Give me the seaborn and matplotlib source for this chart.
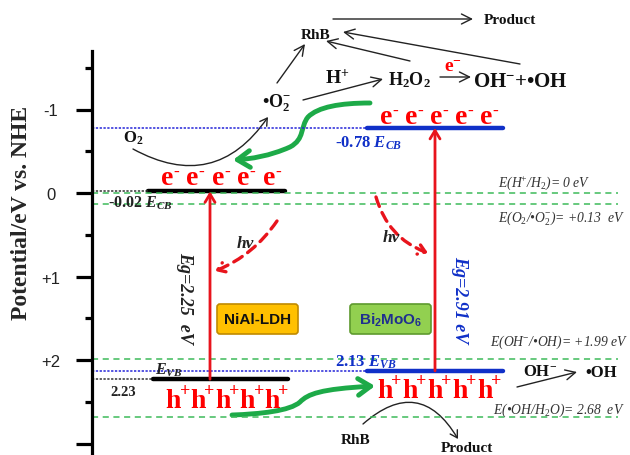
import numpy as np
import pandas as pd
import matplotlib
matplotlib.use("Agg")
import matplotlib.pyplot as plt
import seaborn as sns
from matplotlib.patches import FancyArrowPatch, FancyBboxPatch
from matplotlib.path import Path

# ---------------- data ----------------
materials = ["NiAl-LDH", "Bi2MoO6"]
cb_levels = [-0.02, -0.78]          # conduction band edges (eV vs NHE)
vb_levels = [2.23, 2.13]            # valence band edges
band_gaps = [2.25, 2.91]
redox_values = [0.0, 0.13, 1.99, 2.68]
redox_labels = [r"E(H$^{+}$/H$_{\mathit{2}}$)= 0 eV",
                r"E(O$_{\mathit{2}}$/•O$_{\mathit{2}}^{-}$)= +0.13  eV",
                r"E(OH$^{-}$/•OH)= +1.99 eV",
                r"E(•OH/H$_{\mathit{2}}$O)= 2.68  eV"]
major_ticks = [-1, 0, 1, 2, 3]
major_labels = ["-1", "0", "+1", "+2", ""]
minor_ticks = [-1.5, -0.5, 0.5, 1.5, 2.5]
n_carriers = 5

# ---------------- style ----------------
sns.set_theme(style="white")
plt.rcParams["font.family"] = ["Liberation Serif", "DejaVu Serif"]
plt.rcParams["mathtext.fontset"] = "custom"
plt.rcParams["mathtext.rm"] = "Liberation Serif"
plt.rcParams["mathtext.it"] = "Liberation Serif:italic"
plt.rcParams["mathtext.bf"] = "Liberation Serif:bold"
plt.rcParams["mathtext.bfit"] = "Liberation Serif:italic:bold"
plt.rcParams["mathtext.sf"] = "Liberation Sans:bold"

RED = "#FF0000"
BLUE = "#1030C8"
GREEN = "#1DAA48"
GDASH = "#3DBB5A"
DBLUE = "#2424D8"

W, H = 630, 456
ZERO_PX, PX_PER_EV = 194.0, 83.5   # layout: pixel row of 0 eV and pixels per eV


def ey(y):
    return (y - ZERO_PX) / PX_PER_EV


fig = plt.figure(figsize=(W / 100, H / 100), dpi=100)
ax = fig.add_axes([92 / W, 0, 1 - 92 / W, 1])
ax.set_facecolor("none")

# band edge bars via seaborn
bar_x = [(148, 285, 153, 288), (367, 503, 367, 503)]
rows = []
for i, m in enumerate(materials):
    c0, c1, v0, v1 = bar_x[i]
    rows += [dict(x=c0, E=cb_levels[i], mat=m, seg=f"{m}cb"),
             dict(x=c1, E=cb_levels[i], mat=m, seg=f"{m}cb"),
             dict(x=v0, E=vb_levels[i], mat=m, seg=f"{m}vb"),
             dict(x=v1, E=vb_levels[i], mat=m, seg=f"{m}vb")]
df = pd.DataFrame(rows)
sns.lineplot(data=df, x="x", y="E", hue="mat", units="seg", estimator=None,
             palette=["black", BLUE], lw=3.2, legend=False, sort=False, ax=ax)
ax.set_xlabel("")
ax.set_ylabel("")

ax.set_xlim(92, W)
ax.set_ylim(ey(H), ey(0))

# reference lines
ax.hlines(redox_values, 92, 618, colors=GDASH, linestyles=(0, (4, 3)), lw=1.1)
ax.hlines([cb_levels[1], vb_levels[1]], 92, 367, colors=DBLUE,
          linestyles=(0, (1.5, 1)), lw=1.1)
ax.hlines([cb_levels[0]], 92, 148, colors="#333333", linestyles=(0, (1.5, 1)), lw=1.1)
ax.hlines([vb_levels[0]], 92, 153, colors="#333333", linestyles=(0, (1.5, 1)), lw=1.1)

# axis
for s in ["top", "right", "bottom"]:
    ax.spines[s].set_visible(False)
ax.spines["left"].set_linewidth(2.3)
ax.spines["left"].set_color("black")
ax.spines["left"].set_bounds(ey(52), ey(H))
ax.set_xticks([])
ax.set_yticks(major_ticks)
ax.set_yticklabels(major_labels, family="Liberation Sans", fontsize=12, color="#222222")
ax.set_yticks(minor_ticks, minor=True)
ax.tick_params(axis="y", which="major", direction="out", length=11.5, width=2.3,
               pad=18, left=True, color="black")
ax.tick_params(axis="y", which="minor", direction="out", length=5, width=2.3,
               left=True, color="black")
for lbl in ax.get_yticklabels():
    lbl.set_ha("center")

fig.text(22 / W, 1 - 213 / H, "Potential/eV vs. NHE", rotation=90, fontsize=17,
         fontweight="bold", ha="center", va="center")

# redox labels
redox_pos = [(498, 183), (498, 218), (490, 342), (493, 410)]
for (x, y), lab in zip(redox_pos, redox_labels):
    ax.text(x, ey(y), lab, fontsize=9.8, style="italic", color="#333333",
            ha="left", va="center")

# excitation arrows
ex_x = [210, 435]
for i in range(2):
    ax.annotate("", xy=(ex_x[i], cb_levels[i]), xytext=(ex_x[i], vb_levels[i]),
                arrowprops=dict(arrowstyle="->,head_length=0.5,head_width=0.3",
                                color="#E8141C", lw=2, shrinkA=0, shrinkB=0))

# Eg labels
ax.text(185, ey(298), f"Eg={band_gaps[0]:.2f}  eV", rotation=-90, fontsize=13,
        fontweight="bold", style="italic", color="#222222", ha="center", va="center")
ax.text(460, ey(300), f"Eg={band_gaps[1]:.2f} eV", rotation=-90, fontsize=13,
        fontweight="bold", style="italic", color=BLUE, ha="center", va="center")

# electrons and holes (one letter + small charge sign per carrier)
e_span = [(167, 269), (386, 486)]
e_base = [185, 124]
h_span = [(173.5, 272), (385, 485)]
h_base = [408, 398]
for i in range(2):
    for xc in np.linspace(*e_span[i], n_carriers):
        ax.text(xc, ey(e_base[i]), "e", fontsize=20, fontweight="bold", color=RED,
                ha="center", va="baseline")
        ax.text(xc + 9, ey(e_base[i] - 8.5), "-", fontsize=12.5, fontweight="bold",
                color=RED, ha="center", va="baseline")
    for xc in np.linspace(*h_span[i], n_carriers):
        ax.text(xc, ey(h_base[i]), "h", fontsize=20, fontweight="bold", color=RED,
                ha="center", va="baseline")
        ax.text(xc + 11.5, ey(h_base[i] - 12.5), "+", fontsize=13, fontweight="bold",
                color=RED, ha="center", va="baseline")

# band edge value labels
ax.text(108, ey(203), r"-0.02 $\mathbfit{E}_{\mathbfit{CB}}$", fontsize=11.5,
        fontweight="bold", color="#222222", ha="left", va="center")
ax.text(335, ey(143), r"-0.78 $\mathbfit{E}_{\mathbfit{CB}}$", fontsize=12,
        fontweight="bold", color=BLUE, ha="left", va="center")
ax.text(110, ey(393), "2.23", fontsize=10.5, fontweight="bold", color="#222222",
        ha="left", va="center")
ax.text(155, ey(370), r"$\mathbfit{E}_{\mathbfit{VB}}$", fontsize=11.5,
        color="#222222", ha="left", va="center")
ax.text(335, ey(362), r"2.13 $\mathbfit{E}_{\mathbfit{VB}}$", fontsize=12,
        fontweight="bold", color=BLUE, ha="left", va="center")

# material boxes
for (x0, fc, ec, lab, tc) in [(217, "#FFC000", "#C08A00", "NiAl-LDH", "#111111"),
                              (350, "#92D050", "#5E9A2E", r"Bi$_\mathsf{2}$MoO$_\mathsf{6}$", "#1F2F8F")]:
    box = FancyBboxPatch((x0, ey(305)), 81, ey(335) - ey(305),
                         boxstyle="round,pad=0,rounding_size=3",
                         mutation_aspect=1 / PX_PER_EV, fc=fc, ec=ec, lw=1.2)
    ax.add_patch(box)
    ax.text(x0 + 40.5, ey(320), lab, family="Liberation Sans", fontweight="bold",
            fontsize=11, color=tc, ha="center", va="center")

# hv dashed arrows
ax.text(245, ey(244), "hν", fontsize=12.5, fontweight="bold", style="italic",
        color="#222222", ha="center", va="center")
ax.text(391, ey(238), "hν", fontsize=12.5, fontweight="bold", style="italic",
        color="#222222", ha="center", va="center")
for a, b, rad in [((277, 222), (215, 272), -0.15), ((376, 198), (428, 254), 0.25)]:
    p = FancyArrowPatch((a[0], ey(a[1])), (b[0], ey(b[1])),
                        connectionstyle=f"arc3,rad={rad}",
                        arrowstyle="->,head_length=5,head_width=3.5",
                        color="#E8141C", lw=2.4, linestyle=(0, (3, 2)),
                        shrinkA=0, shrinkB=0)
    ax.add_patch(p)


def bez(pts):
    verts = [(x, ey(y)) for x, y in pts]
    codes = [Path.MOVETO] + [Path.CURVE4] * (len(pts) - 1)
    return Path(verts, codes)


# green transfer arrows
up = bez([(370, 104), (340, 104), (318, 108), (308, 118),
          (300, 128), (305, 140), (290, 148),
          (270, 157), (250, 160), (233, 161)])
lo = bez([(232, 416), (260, 415), (290, 412), (300, 403),
          (308, 395), (320, 390), (375, 387)])
for pth in (up, lo):
    ax.add_patch(FancyArrowPatch(path=pth, arrowstyle="->,head_length=6,head_width=4",
                                 color=GREEN, lw=3.5, mutation_scale=1.5))

# reaction text
bold = dict(fontweight="bold", ha="center", va="center", color="#111111")
ax.text(316, ey(35), "RhB", fontsize=11, **bold)
ax.text(510, ey(20), "Product", fontsize=11, **bold)
ax.text(276, ey(103), r"•O$_{\mathbf{2}}^{\mathbf{-}}$", fontsize=13, **bold)
ax.text(337, ey(78), r"H$^{\mathbf{+}}$", fontsize=14, **bold)
ax.text(409, ey(80), r"H$_{\mathbf{2}}$O$_{\mathbf{2}}$", fontsize=13, **bold)
ax.text(453, ey(67), r"e$^{\mathbf{-}}$", fontsize=14, fontweight="bold",
        color=RED, ha="center", va="center")
ax.text(520, ey(82), r"OH$^{\mathbf{-}}$+•OH", fontsize=15, **bold)
ax.text(133, ey(138), r"O$_{\mathbf{2}}$", fontsize=12, **bold)
ax.text(540, ey(372), r"OH$^{\mathbf{-}}$", fontsize=12, **bold)
ax.text(601, ey(373), "•OH", fontsize=12, **bold)
ax.text(356, ey(440), "RhB", fontsize=11, **bold)
ax.text(467, ey(449), "Product", fontsize=11, **bold)

thin = dict(arrowstyle="->,head_length=0.6,head_width=0.3", color="#222222", lw=1,
            shrinkA=0, shrinkB=0)
for a, b in [((333, 20), (473, 20)), ((410, 62), (326, 42)), ((520, 65), (343, 33)),
             ((277, 84), (305, 45)), ((303, 101), (383, 80)), ((440, 78), (471, 78)),
             ((517, 388), (577, 373))]:
    ax.annotate("", xy=(b[0], ey(b[1])), xytext=(a[0], ey(a[1])), arrowprops=thin,
                annotation_clip=False)
for a, b, rad in [((133, 150), (268, 118), 0.45), ((363, 425), (458, 440), -0.6)]:
    ax.add_patch(FancyArrowPatch((a[0], ey(a[1])), (b[0], ey(b[1])),
                                 connectionstyle=f"arc3,rad={rad}",
                                 arrowstyle="->,head_length=5,head_width=3",
                                 color="#222222", lw=1, shrinkA=0, shrinkB=0))

fig.savefig("out.png", dpi=100)
